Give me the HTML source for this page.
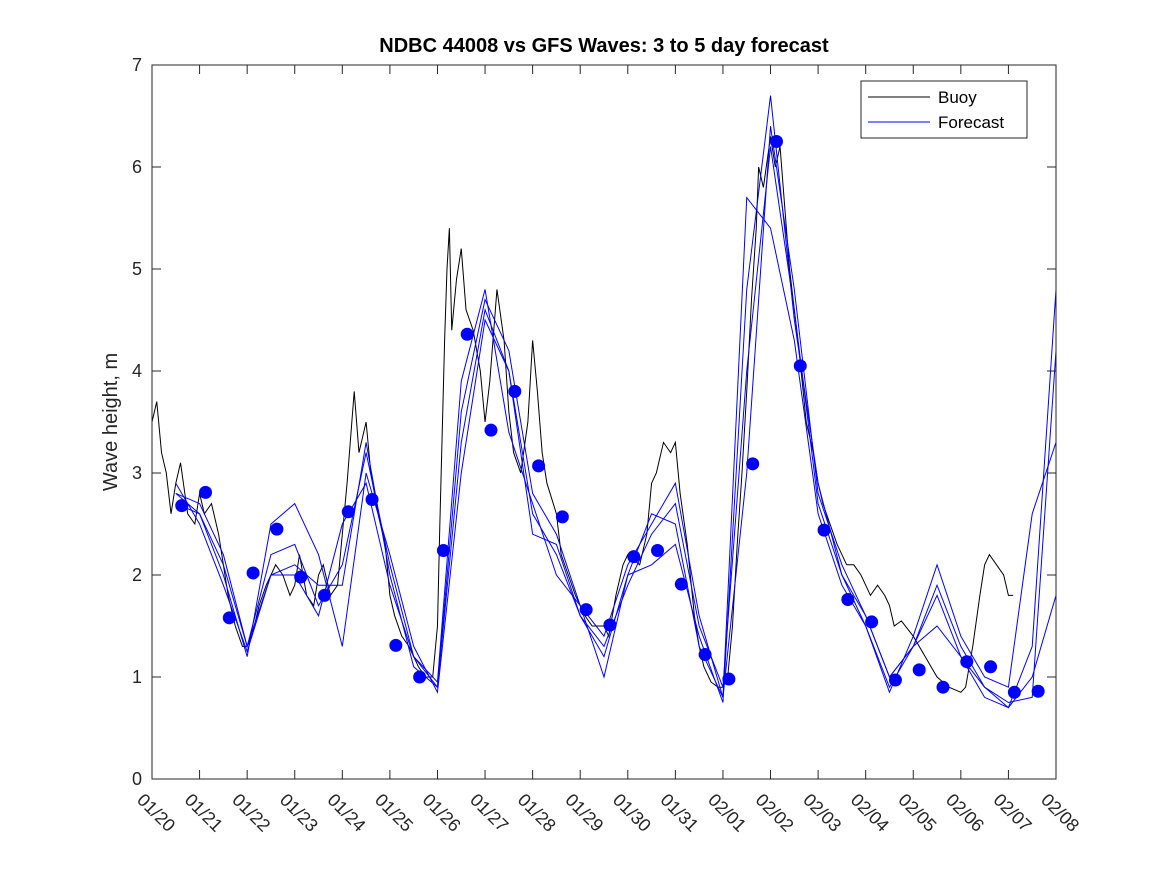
<!DOCTYPE html>
<html><head><meta charset="utf-8"><style>
body{margin:0;background:#fff}
svg{font-family:"Liberation Sans","DejaVu Sans",sans-serif}
</style></head><body>
<svg id="c" width="1167" height="875"></svg>
<script>
const buoyT=[0,0.1,0.2,0.3,0.4,0.5,0.6,0.75,0.9,1.0,1.1,1.25,1.4,1.5,1.6,1.75,1.9,2.0,2.1,2.25,2.4,2.5,2.6,2.75,2.9,3.0,3.1,3.25,3.4,3.5,3.6,3.75,3.9,4.0,4.1,4.2,4.25,4.35,4.5,4.6,4.75,4.9,5.0,5.1,5.25,5.4,5.5,5.6,5.75,5.9,6.0,6.05,6.1,6.15,6.2,6.25,6.3,6.4,6.5,6.6,6.75,6.9,7.0,7.1,7.25,7.4,7.5,7.6,7.75,7.9,8.0,8.1,8.2,8.3,8.5,8.6,8.75,8.9,9.0,9.1,9.25,9.4,9.5,9.6,9.75,9.9,10.0,10.25,10.4,10.5,10.6,10.75,10.9,11.0,11.1,11.25,11.4,11.5,11.6,11.75,11.9,12.0,12.1,12.2,12.3,12.4,12.5,12.6,12.7,12.75,12.85,13.0,13.1,13.2,13.3,13.4,13.5,13.6,13.75,13.9,14.0,14.1,14.25,14.4,14.5,14.6,14.75,14.9,15.0,15.1,15.25,15.4,15.5,15.6,15.75,16.0,16.25,16.5,16.75,17.0,17.1,17.25,17.4,17.5,17.6,17.75,17.9,18.0,18.1,18.25];
const buoyH=[3.5,3.7,3.2,3.0,2.6,2.9,3.1,2.6,2.5,2.8,2.6,2.7,2.4,2.1,1.8,1.5,1.3,1.3,1.4,1.7,1.9,2.0,2.1,2.0,1.8,1.9,2.2,1.8,1.7,2.0,2.1,1.8,1.9,2.4,2.9,3.5,3.8,3.2,3.5,3.0,2.6,2.3,1.8,1.6,1.4,1.3,1.2,1.1,1.0,1.0,1.5,2.5,3.4,4.3,5.0,5.4,4.4,4.9,5.2,4.6,4.4,4.0,3.5,3.9,4.8,4.3,3.6,3.2,3.0,3.5,4.3,3.8,3.2,2.9,2.6,2.2,2.0,1.8,1.7,1.6,1.5,1.5,1.5,1.4,1.8,2.1,2.2,2.1,2.4,2.9,3.0,3.3,3.2,3.3,2.8,2.3,1.6,1.3,1.1,0.95,0.9,0.9,1.0,1.5,2.3,3.0,3.8,4.7,5.4,6.0,5.8,6.3,6.0,6.2,5.6,5.0,4.6,4.2,3.5,3.2,2.9,2.7,2.5,2.3,2.2,2.1,2.1,2.0,1.9,1.8,1.9,1.8,1.7,1.5,1.55,1.4,1.2,1.0,0.9,0.85,0.9,1.3,1.8,2.1,2.2,2.1,2.0,1.8,1.8];
const fcT=[0.5,1.0,1.5,2.0,2.5,3.0,3.5,4.0,4.5,5.0,5.5,6.0,6.5,7.0,7.5,8.0,8.5,9.0,9.5,10.0,10.5,11.0,11.5,12.0,12.5,13.0,13.5,14.0,14.5,15.0,15.5,16.0,16.5,17.0,17.5,18.0,18.5,19.0];
const fc1=[2.8,2.7,2.2,1.3,2.0,2.1,1.9,1.9,3.3,2.0,1.1,0.9,3.6,4.7,4.2,2.8,2.4,1.7,1.4,2.1,2.5,2.9,1.6,0.8,3.0,6.4,4.8,2.8,2.1,1.6,1.0,1.3,1.5,1.2,0.8,0.7,1.3,4.8];
const fc2=[2.7,2.6,2.0,1.2,2.5,2.7,2.2,1.3,3.0,2.2,1.3,0.85,3.0,4.5,4.0,2.6,2.2,1.6,1.2,2.0,2.1,2.3,1.4,0.75,4.8,6.7,4.5,2.9,2.0,1.5,0.85,1.4,2.1,1.4,1.0,0.9,2.6,3.3];
const fc3=[2.9,2.5,1.9,1.25,2.0,2.0,1.6,2.5,2.9,1.9,1.2,0.95,3.9,4.8,3.4,2.7,2.0,1.7,1.0,2.0,2.6,2.5,1.3,0.8,5.7,5.4,4.3,2.6,1.9,1.5,0.9,1.3,1.8,1.2,0.9,0.75,0.8,4.2];
const fc4=[2.8,2.6,2.1,1.3,2.2,2.3,1.7,2.1,3.2,2.1,1.2,0.9,3.3,4.6,4.0,2.4,2.3,1.6,1.3,1.9,2.4,2.7,1.5,0.9,4.0,6.2,4.6,2.7,2.0,1.6,1.0,1.3,1.9,1.3,0.9,0.7,1.0,1.8];
const dotT=[0.625,1.125,1.625,2.125,2.625,3.125,3.625,4.125,4.625,5.125,5.625,6.125,6.625,7.125,7.625,8.125,8.625,9.125,9.625,10.125,10.625,11.125,11.625,12.125,12.625,13.125,13.625,14.125,14.625,15.125,15.625,16.125,16.625,17.125,17.625,18.125,18.625];
const dotH=[2.68,2.81,1.58,2.02,2.45,1.98,1.80,2.62,2.74,1.31,1.00,2.24,4.36,3.42,3.80,3.07,2.57,1.66,1.51,2.18,2.24,1.91,1.22,0.98,3.09,6.25,4.05,2.44,1.76,1.54,0.97,1.07,0.90,1.15,1.10,0.85,0.86];
const yTicks=[0,1,2,3,4,5,6,7];
const xLabels=["01/20","01/21","01/22","01/23","01/24","01/25","01/26","01/27","01/28","01/29","01/30","01/31","02/01","02/02","02/03","02/04","02/05","02/06","02/07","02/08"];

const NS="http://www.w3.org/2000/svg",svg=document.getElementById('c');
const L=152,R=1056,T=65,B=779;
const xs=t=>L+t*(R-L)/19, ys=v=>B-v*(B-T)/7;
function mk(tag,a,parent){const e=document.createElementNS(NS,tag);for(const k in a)e.setAttribute(k,a[k]);(parent||svg).appendChild(e);return e;}
const bg=mk('rect',{x:L,y:T,width:R-L,height:B-T,fill:'#fff',stroke:'none'});


yTicks.forEach(v=>{
  const y=ys(v);
  mk('line',{x1:L,x2:L+9,y1:y,y2:y,stroke:'#262626'});
  mk('line',{x1:R,x2:R-9,y1:y,y2:y,stroke:'#262626'});
  const t=mk('text',{x:L-10,y:y+6,'text-anchor':'end','font-size':18,fill:'#262626'});t.textContent=v;
  
  
});
xLabels.forEach((s,i)=>{
  const x=xs(i);
  mk('line',{x1:x,x2:x,y1:B,y2:B-9,stroke:'#262626'});
  mk('line',{x1:x,x2:x,y1:T,y2:T+9,stroke:'#262626'});
  const t=mk('text',{x:x-16,y:B+22,'font-size':18,fill:'#262626',transform:`rotate(45 ${x-16} ${B+22})`});t.textContent=s;
  
  
});
function line(T_,H,col,name){
  const p=mk('polyline',{points:T_.map((t,i)=>xs(t)+','+ys(H[i])).join(' '),fill:'none',stroke:col,'stroke-width':1});
  
  
}
line(buoyT,buoyH,'#000','buoy-line');
[fc1,fc2,fc3,fc4].forEach((f,i)=>line(fcT,f,'#0000ff','forecast-line-'+(i+1)));
dotT.forEach((t,i)=>{
  const c=mk('circle',{cx:xs(t),cy:ys(dotH[i]),r:6.5,fill:'#0000ff'});
  
  
});
const fr=mk('rect',{x:L,y:T,width:R-L,height:B-T,fill:'none',stroke:'#262626'});


const tt=mk('text',{x:604,y:52,'text-anchor':'middle','font-size':20,'font-weight':'bold',fill:'#000'});tt.textContent='NDBC 44008 vs GFS Waves: 3 to 5 day forecast';


const yl=mk('text',{x:0,y:0,'text-anchor':'middle','font-size':20,fill:'#262626',transform:'translate(117 422) rotate(-90)'});yl.textContent='Wave height, m';


const lg=mk('g',{});


mk('rect',{x:861,y:81,width:166,height:57,fill:'#fff',stroke:'#262626'},lg);
mk('line',{x1:868,x2:930,y1:97,y2:97,stroke:'#000'},lg);
mk('line',{x1:868,x2:930,y1:122,y2:122,stroke:'#0000ff'},lg);
const l1=mk('text',{x:938,y:103,'font-size':17,fill:'#000'},lg);l1.textContent='Buoy';


const l2=mk('text',{x:938,y:128,'font-size':17,fill:'#000'},lg);l2.textContent='Forecast';


</script>
</body></html>
